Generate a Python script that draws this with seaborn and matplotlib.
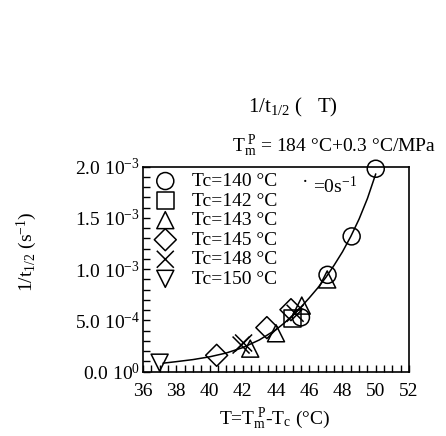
import numpy as np
import pandas as pd
import matplotlib
matplotlib.use("Agg")
import matplotlib.pyplot as plt
from matplotlib.ticker import MultipleLocator, FixedLocator, FixedFormatter
import seaborn as sns

# ---- data ----
series_labels = ["Tc=140 °C", "Tc=142 °C", "Tc=143 °C", "Tc=145 °C", "Tc=148 °C", "Tc=150 °C"]
series_markers = ["o", "s", "^", "D", "x", "v"]

x_140 = [45.5, 47.1, 48.55, 50.0]
y_140 = [0.53e-3, 0.945e-3, 1.32e-3, 1.98e-3]
x_142 = [45.0]
y_142 = [0.515e-3]
x_143 = [42.45, 44.0, 45.55, 47.08]
y_143 = [0.225e-3, 0.375e-3, 0.645e-3, 0.90e-3]
x_145 = [40.43, 43.45, 44.9]
y_145 = [0.16e-3, 0.43e-3, 0.605e-3]
x_148 = [41.9, 42.05, 45.15]
y_148 = [0.26e-3, 0.28e-3, 0.57e-3]
x_150 = [37.0]
y_150 = [0.088e-3]

curve_x = [37.2, 38.0, 39.0, 40.0, 41.0, 42.0, 43.0, 44.0, 44.5, 45.0, 45.5, 46.0,
           46.5, 47.0, 47.5, 48.0, 48.5, 49.0, 49.5, 50.0]
curve_y = [0.083e-3, 0.098e-3, 0.118e-3, 0.145e-3, 0.182e-3, 0.235e-3, 0.31e-3,
           0.41e-3, 0.475e-3, 0.55e-3, 0.63e-3, 0.72e-3, 0.815e-3, 0.92e-3,
           1.04e-3, 1.17e-3, 1.32e-3, 1.49e-3, 1.69e-3, 1.93e-3]

yticks = [0.0, 0.5e-3, 1.0e-3, 1.5e-3, 2.0e-3]
ytick_labels = [r"0.0 10$^{0}$", r"5.0 10$^{-4}$", r"1.0 10$^{-3}$",
                r"1.5 10$^{-3}$", r"2.0 10$^{-3}$"]
xticks = [36, 38, 40, 42, 44, 46, 48, 50, 52]

# ---- style ----
sns.set_theme(style="white")
plt.rcParams["font.family"] = ["Liberation Serif", "DejaVu Serif"]
plt.rcParams["mathtext.fontset"] = "custom"
plt.rcParams["mathtext.rm"] = "Liberation Serif"
plt.rcParams["mathtext.it"] = "Liberation Serif:italic"
plt.rcParams["mathtext.bf"] = "Liberation Serif:bold"

FS = 14

fig = plt.figure(figsize=(4.46, 4.36), dpi=100)
ax = fig.add_axes([143 / 446, 1 - 371.7 / 436, (409 - 143) / 446, (371.7 - 166.7) / 436])

# fitted curve
sns.lineplot(x=curve_x, y=curve_y, ax=ax, color="black", lw=1.1, sort=False,
             estimator=None, legend=False)

all_x = [x_140, x_142, x_143, x_145, x_148, x_150]
all_y = [y_140, y_142, y_143, y_145, y_148, y_150]
for xs, ys, lab, m in zip(all_x, all_y, series_labels, series_markers):
    df = pd.DataFrame({"dT": xs, "rate": ys})
    sns.scatterplot(data=df, x="dT", y="rate", ax=ax, marker=m, s=150 if m != "D" else 125,
                    color="black", label=lab, legend=False, zorder=3, clip_on=False)

for coll in ax.collections:
    coll.set_facecolor("none")
    coll.set_edgecolor("black")
    coll.set_linewidth(1.1)

ax.set_xlim(36, 52)
ax.set_ylim(0, 2.0e-3)
ax.xaxis.set_major_locator(FixedLocator(xticks))
ax.xaxis.set_minor_locator(MultipleLocator(0.5))
ax.yaxis.set_major_locator(FixedLocator(yticks))
ax.yaxis.set_major_formatter(FixedFormatter(ytick_labels))
ax.yaxis.set_minor_locator(MultipleLocator(1e-4))
ax.tick_params(axis="both", which="both", direction="in", length=5, width=1,
               color="black", top=False, right=False, labelsize=FS, labelcolor="black")
ax.tick_params(axis="x", which="both", pad=8, bottom=True)
ax.tick_params(axis="y", which="both", pad=2, left=True)
for sp in ax.spines.values():
    sp.set_color("black")
    sp.set_linewidth(1.2)
ax.set_xlabel("")
ax.set_ylabel("")

leg = ax.legend(loc="upper left", frameon=False, fontsize=FS, labelspacing=0.1,
                handletextpad=0.75, borderaxespad=0.0, handlelength=1.2,
                borderpad=0.3, bbox_to_anchor=(0.018, 1.0))
for t in leg.get_texts():
    t.set_color("black")

# texts
fig.text(293 / 446, 1 - 107 / 436, r"1/t$_{1/2}$ (   T)", ha="center", va="center",
         fontsize=FS + 1, color="black")
fig.text(334 / 446, 1 - 146 / 436, r"T$_{\mathrm{m}}^{\ \mathrm{P}}$ = 184 °C+0.3 °C/MPa",
         ha="center", va="center", fontsize=FS, color="black")
fig.text(313 / 446, 1 - 187 / 436, r"=0s$^{\mathrm{-1}}$", ha="left", va="center",
         fontsize=FS, color="black")
fig.text(305 / 446, 1 - 182 / 436, "·", ha="center", va="center", fontsize=FS, color="black")
fig.text(275 / 446, 1 - 419 / 436, r"T=T$_{\mathrm{m}}^{\ \mathrm{P}}$-T$_{\mathrm{c}}$ (°C)",
         ha="center", va="center", fontsize=FS, color="black")
fig.text(27 / 446, 1 - 252 / 436, r"1/t$_{1/2}$ (s$^{-1}$)", ha="center", va="center",
         rotation=90, fontsize=FS, color="black")

fig.savefig("out.png", dpi=100, facecolor="white")
